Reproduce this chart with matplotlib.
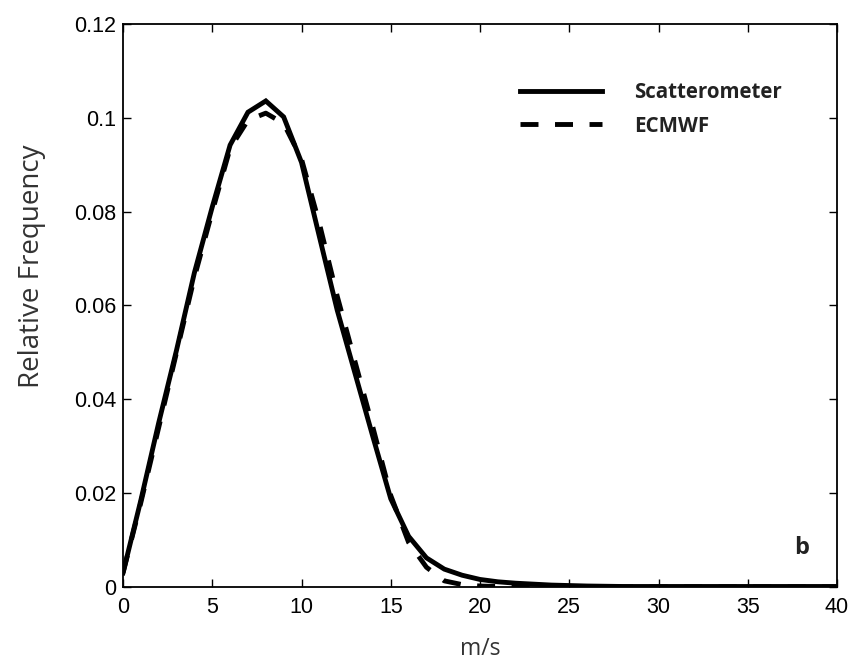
import matplotlib
matplotlib.use("Agg")
import matplotlib.pyplot as plt
from matplotlib.ticker import FormatStrFormatter, MultipleLocator

# wind speed bins (m/s)
speed = list(range(0, 41))

scatterometer = [0.003, 0.0185, 0.035, 0.0505, 0.067, 0.081, 0.0942, 0.1012, 0.1036, 0.1002,
                 0.0905, 0.0747, 0.059, 0.0455, 0.032, 0.0188, 0.0108, 0.0062, 0.0038, 0.0025,
                 0.0016, 0.0011, 0.0008, 0.0006, 0.0004, 0.0003, 0.0002, 0.00015, 0.0001, 0.0001,
                 0.0001, 0.0001, 0.0001, 0.0001, 0.0001, 0.0001, 0.0001, 0.0001, 0.0001, 0.0001, 0.0001]

ecmwf = [0.003, 0.018, 0.034, 0.050, 0.066, 0.080, 0.0935, 0.0995, 0.1010, 0.0988,
         0.0912, 0.0775, 0.062, 0.048, 0.034, 0.0195, 0.0095, 0.0042, 0.0013, 0.0005,
         0.0002, 0.0001, 0, 0, 0, 0, 0, 0, 0, 0,
         0, 0, 0, 0, 0, 0, 0, 0, 0, 0, 0]

xticks = [0, 5, 10, 15, 20, 25, 30, 35, 40]

plt.rcParams['font.family'] = ['Liberation Sans', 'DejaVu Sans']

fig = plt.figure(figsize=(8.59, 6.67), dpi=100)
ax = fig.add_axes([0.1432, 0.12, 0.8312, 0.844])

ax.plot(speed, scatterometer, color="black", lw=3.5, solid_joinstyle="miter",
        label="Scatterometer")
ax.plot(speed, ecmwf, color="black", lw=3.5, dashes=(3.7, 3.4), dash_capstyle="butt",
        label="ECMWF")

ax.set_xlim(0, 40)
ax.set_ylim(0, 0.12)
ax.set_xticks(xticks)
ax.yaxis.set_major_locator(MultipleLocator(0.02))
ax.yaxis.set_major_formatter(FormatStrFormatter('%g'))
ax.tick_params(direction="in", length=6, width=1, top=True, right=True,
               labelsize=15.5, pad=5)
ax.tick_params(axis="x", pad=7)
for s in ax.spines.values():
    s.set_linewidth(1.3)

ax.set_ylabel("Relative Frequency", labelpad=20, y=0.57, family=['Open Sans', 'DejaVu Sans'],
              fontsize=20, color="#333333")
ax.set_xlabel("m/s", labelpad=14, family=['Open Sans', 'DejaVu Sans'],
              fontsize=16.5, color="#333333")

leg = ax.legend(loc="upper left", bbox_to_anchor=(0.53, 0.93), frameon=False,
                handlelength=4.0, handletextpad=1.55, labelspacing=0.62,
                prop=dict(family=['Open Sans', 'DejaVu Sans'], weight="bold", size=14.8))
for t in leg.get_texts():
    t.set_color("#222222")

ax.text(0.95, 0.069, "b", transform=ax.transAxes, ha="center", va="center",
        fontsize=17, fontweight="bold", color="#222222",
        family=['Open Sans', 'DejaVu Sans'])

fig.savefig("out.png", dpi=100)
